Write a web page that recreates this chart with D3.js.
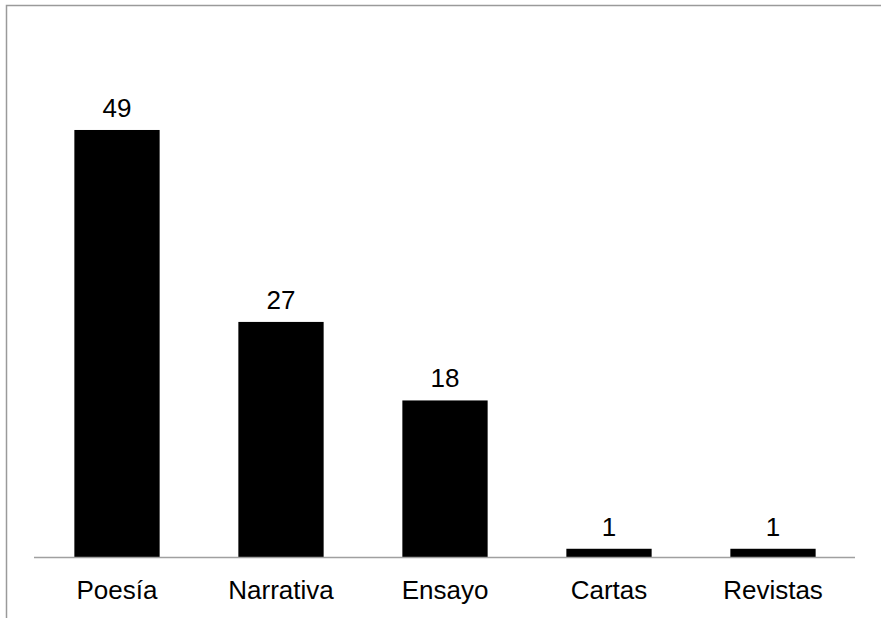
<!DOCTYPE html>
<html>
	<head>
		<meta charset="utf-8">
		<script src="https://d3js.org/d3.v7.min.js"></script>
		<style>
			body { margin: 0; background: #fff; }
			text {
			  font-family: "Liberation Sans", Arial, sans-serif;
			  fill: #000;
			}
			.frame { fill: none; stroke: #9a9a9a; stroke-width: 1.5px; }
			.base { stroke: #a0a0a0; stroke-width: 1.5px; }
		</style>
	</head>
	<body>
		<svg width="881" height="618"></svg>

		<script>
			var categories = ["Poesía", "Narrativa", "Ensayo", "Cartas", "Revistas"];
			var values = [49, 27, 18, 1, 1];

			var svg = d3.select("svg");

			// outer chart frame (only top and left edges show)
			svg.append("rect")
			  .attr("class", "frame")
			  .attr("x", 6.5)
			  .attr("y", 5.5)
			  .attr("width", 900)
			  .attr("height", 640);

			var x = d3.scaleBand()
			  .domain(categories)
			  .range([35, 855])
			  .paddingInner(0.48)
			  .paddingOuter(0.24);

			var y = d3.scaleLinear()
			  .domain([0, 60])
			  .range([557.5, 34]);

			svg.append("g")
			  .selectAll("rect")
			  .data(values)
			  .enter()
			  .append("rect")
			  .attr("x", function(d, i) { return x(categories[i]); })
			  .attr("y", function(d) { return y(d); })
			  .attr("width", x.bandwidth())
			  .attr("height", function(d) { return y(0) - y(d); })
			  .attr("fill", "#000");

			svg.append("line")
			  .attr("class", "base")
			  .attr("x1", 34)
			  .attr("x2", 855)
			  .attr("y1", y(0))
			  .attr("y2", y(0));

			// value labels
			svg.append("g")
			  .selectAll("text")
			  .data(values)
			  .enter()
			  .append("text")
			  .attr("x", function(d, i) { return x(categories[i]) + x.bandwidth() / 2; })
			  .attr("y", function(d) { return y(d) - 13; })
			  .attr("text-anchor", "middle")
			  .style("font-size", "26px")
			  .text(function(d) { return d; });

			// category labels
			var xAxis = svg.append("g")
			  .attr("transform", "translate(0," + y(0) + ")")
			  .call(d3.axisBottom(x).tickSize(0).tickPadding(0));
			xAxis.select(".domain").remove();
			xAxis.selectAll("text")
			  .attr("dy", null)
			  .attr("y", 41)
			  .style("font-size", "26px")
			  .style("font-family", "'Liberation Sans', Arial, sans-serif")
			  .attr("fill", "#000");
		</script>
	</body>
</html>
